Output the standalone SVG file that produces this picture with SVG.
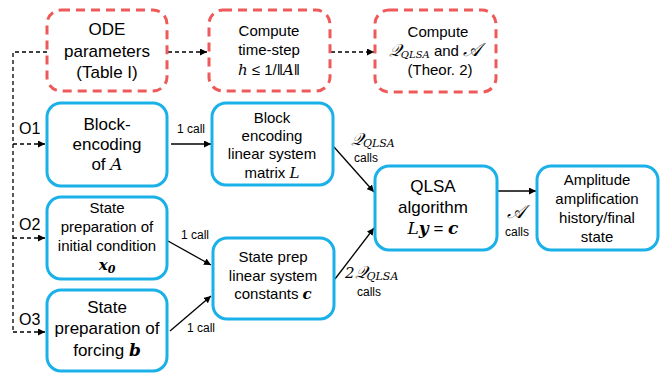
<svg xmlns="http://www.w3.org/2000/svg" width="668" height="374" viewBox="0 0 668 374">
<style>
.red{fill:#fff;stroke:#ee5a5a;stroke-width:3;stroke-dasharray:9 6}
.blue{fill:#fff;stroke:#1ab0e8;stroke-width:3}
text{font-family:"Liberation Sans",Arial,sans-serif;fill:#000;text-anchor:middle}
.b{font-size:17px}
.m{font-size:15px}
.s{font-size:12px}
.lab{font-size:16px;text-anchor:start}
.math{font-family:"DejaVu Serif","Liberation Serif",serif;font-style:italic}
.bm{font-family:"DejaVu Serif","Liberation Serif",serif;font-style:italic;font-weight:bold}
.cal{font-family:"DejaVu Serif","Liberation Serif",serif;font-style:italic}
.dash{fill:none;stroke:#000;stroke-width:1.3;stroke-dasharray:4 3}
.solid{fill:none;stroke:#000;stroke-width:1.3}
</style>
<defs>
<marker id="ah" viewBox="0 0 10 10" refX="10" refY="5" markerWidth="7" markerHeight="7" markerUnits="userSpaceOnUse" orient="auto">
<path d="M0,0 L10,5 L0,10 z" fill="#000"/>
</marker>
</defs>

<g id="connectors">
<path class="dash" d="M47,52 H13 V332"/>
<path class="dash" d="M13,144 H45" marker-end="url(#ah)"/>
<path class="dash" d="M13,238 H45" marker-end="url(#ah)"/>
<path class="dash" d="M13,332 H45" marker-end="url(#ah)"/>
<path class="dash" d="M168,52 H207" marker-end="url(#ah)"/>
<path class="dash" d="M331,52 H374" marker-end="url(#ah)"/>
<path class="solid" d="M171,144 H211" marker-end="url(#ah)"/>
<path class="solid" d="M168,241 L211,265" marker-end="url(#ah)"/>
<path class="solid" d="M170,331 L211,296" marker-end="url(#ah)"/>
<path class="solid" d="M334,147 L374,192" marker-end="url(#ah)"/>
<path class="solid" d="M335,279 L374,228" marker-end="url(#ah)"/>
<path class="solid" d="M498,191 H536" marker-end="url(#ah)"/>
<text class="lab" x="19" y="134">O1</text>
<text class="lab" x="19" y="230">O2</text>
<text class="lab" x="19" y="325">O3</text>
<text class="s" x="191" y="133">1 call</text>
<text class="s" x="195" y="239">1 call</text>
<text class="s" x="201" y="332">1 call</text>
<text x="351" y="145" style="text-anchor:start"><tspan class="cal" font-size="17">𝒬</tspan><tspan class="math" font-size="11" dy="2">QLSA</tspan></text>
<text class="s" x="366" y="162">calls</text>
<text x="345" y="278" style="text-anchor:start"><tspan class="math" font-size="15" font-style="normal">2</tspan><tspan class="cal" font-size="17">𝒬</tspan><tspan class="math" font-size="11" dy="2">QLSA</tspan></text>
<text class="s" x="369" y="296">calls</text>
<text class="cal" font-size="19" x="516" y="218">𝒜</text>
<text class="s" x="517" y="236">calls</text>
</g>

<g id="ode">
<rect class="red" x="47" y="10" width="120" height="81" rx="14"/>
<text class="b" x="107" y="35">ODE</text>
<text class="b" x="107" y="57">parameters</text>
<text class="b" x="107" y="78">(Table I)</text>
</g>
<g id="timestep">
<rect class="red" x="209" y="10" width="121" height="81" rx="14"/>
<text class="m" x="269" y="36">Compute</text>
<text class="m" x="269" y="55">time-step</text>
<text x="269" y="75" font-family="DejaVu Serif, serif" font-size="15"><tspan class="math">h</tspan> ≤ 1/‖<tspan class="math">A</tspan>‖</text>
</g>
<g id="computeQ">
<rect class="red" x="375" y="10" width="121" height="82" rx="14"/>
<text class="m" x="438" y="37">Compute</text>
<text class="m" x="435" y="56"><tspan class="cal" font-size="17">𝒬</tspan><tspan class="math" font-size="10" dy="2">QLSA</tspan><tspan dy="-2"> and </tspan><tspan class="cal" font-size="19">𝒜</tspan></text>
<text class="m" x="440" y="75">(Theor. 2)</text>
</g>
<g id="blockA">
<rect class="blue" x="47" y="103" width="120" height="83" rx="14"/>
<text class="b" x="107" y="130">Block-</text>
<text class="b" x="107" y="150">encoding</text>
<text class="b" x="107" y="170">of <tspan class="math">A</tspan></text>
</g>
<g id="blockL">
<rect class="blue" x="212" y="103" width="121" height="82" rx="14"/>
<text class="m" x="272" y="123">Block</text>
<text class="m" x="272" y="141">encoding</text>
<text class="m" x="272" y="159">linear system</text>
<text class="m" x="272" y="178">matrix <tspan class="math">L</tspan></text>
</g>
<g id="statex0">
<rect class="blue" x="47" y="197" width="120" height="82" rx="14"/>
<text class="m" x="107" y="213">State</text>
<text class="m" x="107" y="232">preparation of</text>
<text class="m" x="107" y="251">initial condition</text>
<text class="m" x="107" y="270"><tspan class="bm">x</tspan><tspan class="bm" font-size="11" dy="3">0</tspan></text>
</g>
<g id="stateb">
<rect class="blue" x="47" y="290" width="120" height="81" rx="14"/>
<text class="b" x="107" y="313">State</text>
<text class="b" x="107" y="334">preparation of</text>
<text class="b" x="107" y="356">forcing <tspan class="bm">b</tspan></text>
</g>
<g id="statec">
<rect class="blue" x="213" y="238" width="121" height="81" rx="14"/>
<text class="m" x="273" y="262">State prep</text>
<text class="m" x="273" y="281">linear system</text>
<text class="m" x="273" y="299">constants <tspan class="bm">c</tspan></text>
</g>
<g id="qlsa">
<rect class="blue" x="375" y="166" width="122" height="84" rx="14"/>
<text class="b" x="433" y="192">QLSA</text>
<text class="b" x="433" y="213">algorithm</text>
<text class="b" x="433" y="234"><tspan class="math">L</tspan><tspan class="bm">y</tspan> = <tspan class="bm">c</tspan></text>
</g>
<g id="amp">
<rect class="blue" x="537" y="166" width="121" height="84" rx="14"/>
<text class="m" x="597" y="185">Amplitude</text>
<text class="m" x="597" y="204">amplification</text>
<text class="m" x="597" y="223">history/final</text>
<text class="m" x="597" y="242">state</text>
</g>
</svg>
